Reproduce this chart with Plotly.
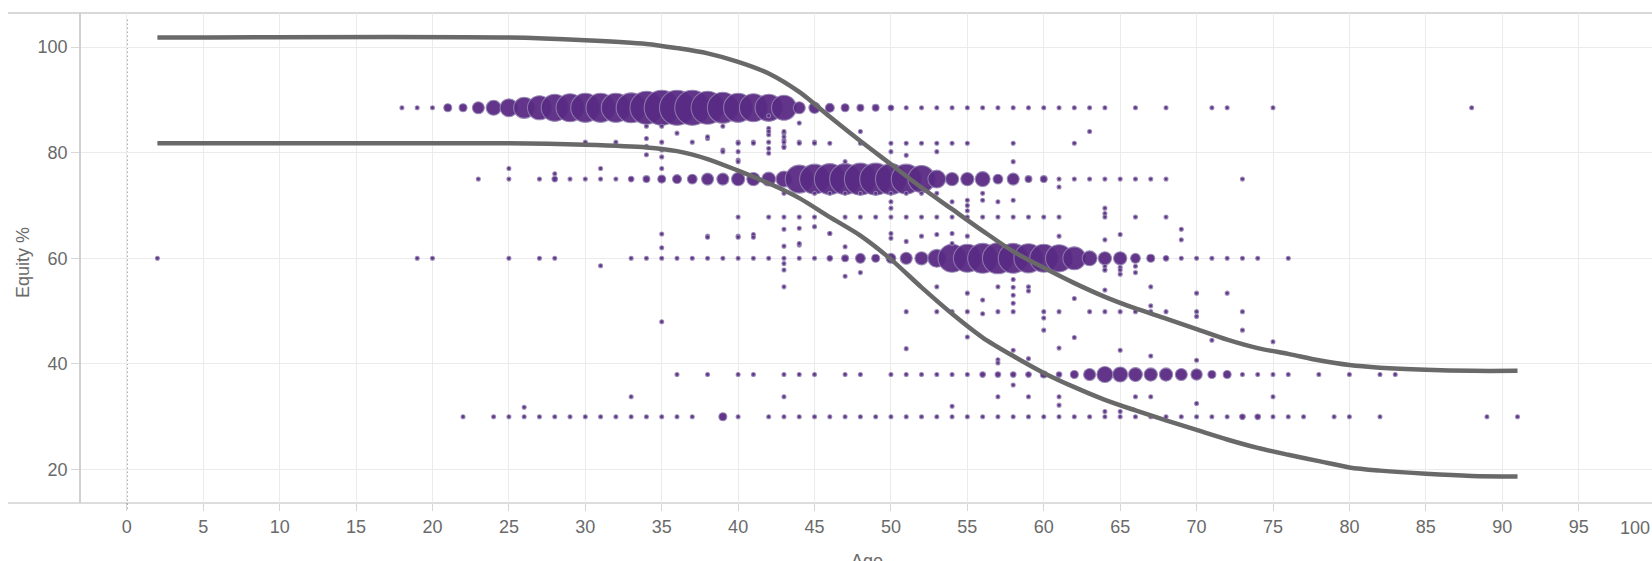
import plotly.graph_objects as go

# ---- glide path bounds (equity % by age) ----
path_age = [2, 25, 30, 34, 36, 38, 40, 42, 44, 46, 48, 50, 52, 54, 56, 58, 60,
            62, 64, 66, 68, 70, 72, 74, 76, 78, 80, 82, 85, 88, 91]
path_upper = [101.8, 101.8, 101.3, 100.6, 99.8, 98.8, 97.2, 95.0, 91.5, 86.8, 82.2,
              77.8, 73.4, 69.3, 65.2, 61.3, 58.2, 55.3, 52.7, 50.5, 48.6, 46.6,
              44.6, 43.0, 41.9, 40.7, 39.8, 39.3, 38.9, 38.7, 38.7]
path_lower = [81.8, 81.8, 81.5, 81.0, 80.3, 78.8, 76.6, 74.2, 71.4, 67.8, 64.3,
              59.8, 54.5, 49.5, 45.0, 41.5, 38.3, 35.6, 33.2, 31.2, 29.3, 27.5,
              25.7, 24.1, 22.8, 21.6, 20.4, 19.8, 19.2, 18.8, 18.7]

# ---- participants by age at the main allocation levels ----
eq_88 = 88.5
age_88 = [18, 19, 20, 21, 22, 23, 24, 25, 26, 27, 28, 29, 30, 31, 32, 33, 34, 35,
          36, 37, 38, 39, 40, 41, 42, 43, 44, 45, 46, 47, 48, 49, 50, 51, 52, 53,
          54, 55, 56, 57, 58, 59, 60, 61, 62, 63, 64, 66, 68, 71, 72, 75, 88]
n_88 = [1, 1, 1, 4, 4, 9, 14, 20, 28, 36, 46, 49, 53, 53, 53, 56, 68, 77,
        77, 77, 68, 60, 53, 49, 46, 39, 9, 8, 5, 4, 3, 3, 2, 1, 1, 1,
        1, 1, 1, 1, 1, 1, 1, 1, 1, 1, 1, 1, 1, 1, 1, 1, 1]

eq_75 = 75
age_75 = [23, 25, 27, 28, 29, 30, 31, 32, 33, 34, 35, 36, 37, 38, 39, 40, 41, 42,
          43, 44, 45, 46, 47, 48, 49, 50, 51, 52, 53, 54, 55, 56, 57, 58, 59, 60,
          61, 62, 63, 64, 65, 66, 67, 68, 73]
n_75 = [1, 1, 1, 2, 1, 1, 1, 1, 2, 3, 4, 5, 6, 9, 9, 11, 11, 12,
        16, 49, 56, 60, 60, 64, 64, 60, 56, 46, 20, 11, 11, 14, 6, 9, 3, 3,
        1, 1, 1, 1, 1, 1, 1, 1, 1]

eq_60 = 60
age_60 = [2, 19, 20, 25, 27, 28, 33, 34, 35, 36, 37, 38, 39, 40, 41, 42, 43, 44,
          45, 46, 47, 48, 49, 50, 51, 52, 53, 54, 55, 56, 57, 58, 59, 60, 61, 62,
          63, 64, 65, 66, 67, 68, 69, 70, 71, 72, 73, 74, 76]
n_60 = [1, 1, 1, 1, 1, 1, 1, 1, 1, 1, 1, 1, 1, 1, 1, 1, 1, 1,
        1, 2, 3, 6, 4, 6, 9, 11, 20, 49, 49, 56, 60, 56, 53, 49, 46, 33,
        14, 11, 11, 6, 4, 2, 1, 1, 1, 1, 1, 1, 1]

eq_38 = 38
age_38 = [36, 38, 40, 41, 43, 44, 45, 47, 48, 50, 51, 52, 53, 54, 55, 56, 57, 58,
          59, 60, 61, 62, 63, 64, 65, 66, 67, 68, 69, 70, 71, 72, 73, 74, 75, 76,
          78, 80, 82, 83]
n_38 = [1, 1, 1, 1, 1, 1, 1, 1, 1, 1, 1, 1, 1, 1, 1, 2, 2, 2,
        2, 3, 2, 4, 9, 16, 14, 12, 11, 11, 9, 8, 4, 4, 1, 1, 1, 1,
        1, 1, 1, 1]

eq_30 = 30
age_30 = [22, 24, 25, 26, 27, 28, 29, 30, 31, 32, 33, 34, 35, 36, 37, 39, 40, 42,
          43, 44, 45, 46, 47, 48, 49, 50, 51, 52, 53, 54, 55, 56, 57, 58, 59, 60,
          61, 62, 63, 64, 65, 66, 67, 68, 69, 70, 71, 72, 73, 74, 75, 76, 77, 79,
          80, 82, 89, 91]
n_30 = [1, 1, 1, 1, 1, 1, 1, 1, 1, 1, 1, 1, 1, 1, 1, 4, 1, 1,
        1, 1, 1, 1, 1, 1, 1, 1, 1, 1, 1, 1, 1, 1, 1, 1, 1, 1,
        1, 1, 1, 1, 1, 1, 1, 1, 1, 1, 1, 1, 2, 2, 1, 1, 1, 1,
        1, 1, 1, 1]

# ---- single participants at other allocations ----
other_age = [25, 28, 30, 31, 32, 34, 34, 34, 34, 35, 35, 35, 35, 35, 36, 37, 38, 39,
             39, 40, 40, 40, 41, 42, 42, 42, 42, 42, 42, 43, 43, 43, 44, 44, 45,
             38, 38, 39, 40, 40, 40, 40, 41, 41, 42, 42, 43, 43, 43, 43, 43, 43,
             43, 43, 44, 44, 44, 44, 45, 45, 45, 45, 46, 46, 46, 47, 47, 47, 47,
             48, 48, 48, 48, 49, 49, 50, 50, 50, 50, 50, 50, 50, 51, 51, 51, 51,
             51, 52, 52, 52, 52, 53, 53, 53, 53, 53, 54, 54, 54, 55, 55, 55, 55,
             55, 55, 56, 56, 56, 57, 57, 58, 58, 58, 58, 59, 60, 61, 61, 61, 62,
             63, 64, 64, 64, 64, 64, 64, 65, 65, 65, 66, 66, 66, 68, 69, 69,
             38, 40, 41, 43, 43, 43, 44, 46, 47, 48, 50, 51, 51, 53, 53, 54, 54,
             54, 55, 55, 55, 56, 56, 57, 57, 57, 57, 57, 58, 58, 58, 58, 58, 58,
             58, 59, 59, 59, 59, 60, 60, 60, 61, 61, 61, 61, 62, 62, 63, 64, 64,
             64, 64, 65, 65, 65, 65, 66, 66, 67, 67, 67, 67, 67, 68, 70, 70, 70,
             70, 70, 71, 72, 73, 73, 75, 75, 26, 31, 33, 35, 35, 35, 43, 54]
other_eq = [77, 76, 82, 77, 82, 85, 82.7, 81.2, 79.6, 85, 82, 80.5, 79.2, 77, 83.7, 82,
            82.7, 85, 80.5, 82, 80.2, 78.6, 82, 87, 84.6, 83.4, 82, 80.8, 79.9,
            83.7, 82.4, 81.2, 85.6, 82, 82,
            83, 64.2, 80.2, 81.8, 78.3, 67.8, 64.2, 81.8, 64.5, 84, 67.8, 84, 83,
            82, 81, 72.3, 67.8, 65.5, 62.3, 81.8, 67.8, 65.7, 62.5, 81.8, 72.3,
            67.8, 66, 81.8, 72.3, 64.7, 78.3, 72.3, 67.8, 56.6, 84, 81.8, 72.3,
            67.8, 72.3, 67.8, 81.8, 80.2, 72.3, 70.7, 69.5, 67.8, 63.8, 81.8,
            79.5, 72.3, 67.8, 63.2, 81.8, 72.3, 67.8, 64.2, 81.8, 80.2, 72.3, 67.8,
            64.5, 81.8, 70.7, 67.8, 81.8, 71, 70, 69, 67.8, 64.2, 72.3, 71, 67.8,
            70.7, 67.8, 81.8, 78.3, 71, 67.8, 67.8, 67.8, 73.5, 67.8, 64.2, 81.8,
            84, 69.5, 68.5, 67.8, 63.5, 58.5, 57.8, 64.5, 58.3, 57, 67.8, 58.5,
            57.3, 67.8, 65.5, 63.5,
            64, 64, 64, 57.8, 54.6, 59, 62.8, 64.7, 62.2, 57.3, 64.7, 49.9, 42.9,
            54.6, 49.9, 64.7, 62.8, 49.9, 53.4, 49.9, 45.1, 52.1, 49.5, 54.6,
            49.9, 40.8, 40.2, 33.8, 56, 54.5, 53, 51.5, 49.9, 42.6, 36, 54.6,
            53.8, 41, 33.8, 49.9, 48.7, 46.4, 49.9, 43, 33.8, 32.2, 52.4, 45,
            49.9, 57.8, 54, 49.9, 31, 57.8, 49.9, 42.6, 31, 49.9, 33.8, 54.6, 51,
            49.9, 41.5, 33.8, 49.9, 53.4, 49.9, 49, 40.7, 32.5, 44.5, 53.4, 49.9,
            46.4, 44.2, 33.8, 31.8, 58.6, 33.8, 48, 64.6, 62, 33.8, 32]

# ---- assemble bubble table ----
ages, equity, counts = [], [], []
for lvl, a_list, n_list in [(eq_88, age_88, n_88), (eq_75, age_75, n_75),
                            (eq_60, age_60, n_60), (eq_38, age_38, n_38),
                            (eq_30, age_30, n_30)]:
    ages += a_list
    equity += [lvl] * len(a_list)
    counts += n_list
ages += other_age
equity += other_eq
counts += [1] * len(other_age)

FONT = "Liberation Sans, Arial, sans-serif"
TICK_COLOR = "#6a6a6a"

fig = go.Figure()

fig.add_trace(go.Scatter(
    x=ages, y=equity, mode="markers",
    marker=dict(size=counts, sizemode="area", sizeref=0.125,
                color="#5a2b84", opacity=0.95,
                line=dict(color="rgba(145,130,175,0.9)", width=1.1)),
    hoverinfo="x+y", showlegend=False,
))

for band in (path_upper, path_lower):
    fig.add_trace(go.Scatter(
        x=path_age, y=band, mode="lines",
        line=dict(color="#696969", width=4.5, shape="spline", smoothing=0.8),
        hoverinfo="skip", showlegend=False,
    ))

fig.update_layout(
    width=1652, height=561,
    margin=dict(l=81, r=0, t=13, b=58),
    paper_bgcolor="white", plot_bgcolor="white",
    font=dict(family=FONT, size=18, color=TICK_COLOR),
    xaxis=dict(
        range=[-3.0, 99.8], tickvals=list(range(0, 100, 5)),
        showgrid=True, gridcolor="#ebebeb", gridwidth=1, zeroline=False,
        ticks="outside", ticklen=7, tickcolor="#d6d6d6", showline=False,
        tickfont=dict(family=FONT, size=18, color=TICK_COLOR),
    ),
    yaxis=dict(
        range=[13.67, 106.45], tickvals=[20, 40, 60, 80, 100],
        showgrid=True, gridcolor="#ebebeb", gridwidth=1, zeroline=False,
        ticks="outside", ticklen=8, tickcolor="#d6d6d6",
        showline=True, linecolor="#d0d0d0", linewidth=1.5,
        tickfont=dict(family=FONT, size=18, color=TICK_COLOR),
    ),
    shapes=[
        dict(type="line", xref="paper", yref="paper", x0=-0.0465, x1=1, y0=1, y1=1,
             line=dict(color="#d8d8d8", width=2), layer="below"),
        dict(type="line", xref="paper", yref="paper", x0=-0.0465, x1=1, y0=0, y1=0,
             line=dict(color="#d0d0d0", width=1.5), layer="below"),
        dict(type="line", xref="x", yref="paper", x0=0, x1=0, y0=-0.012, y1=0.99,
             line=dict(color="#4a4a4a", width=1.2, dash="1.5px,2.5px"), layer="below"),
    ],
    annotations=[
        dict(text="100", xref="paper", yref="paper", x=1, y=-0.051,
             xanchor="right", yanchor="middle", showarrow=False,
             font=dict(family=FONT, size=18, color=TICK_COLOR)),
        dict(text="Age", xref="paper", yref="paper", x=0.5, y=-0.093,
             xanchor="center", yanchor="top", showarrow=False,
             font=dict(family=FONT, size=18, color=TICK_COLOR)),
        dict(text="Equity %", xref="paper", yref="paper", x=-0.0369, y=0.49,
             xanchor="center", yanchor="middle", textangle=-90, showarrow=False,
             font=dict(family=FONT, size=18, color=TICK_COLOR)),
    ],
)

fig.write_html("out.html")
